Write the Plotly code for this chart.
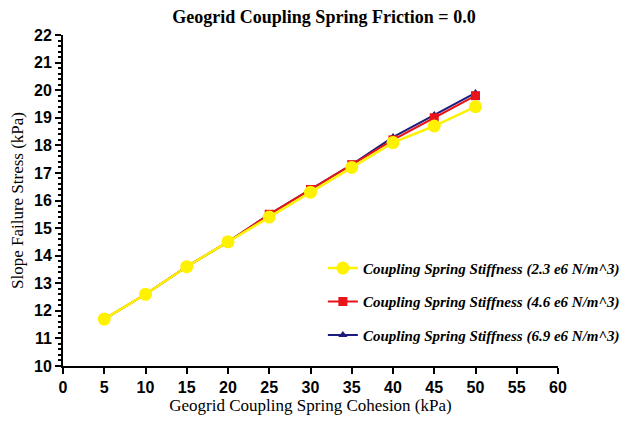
import plotly.graph_objects as go

# ---- data ----
cohesion = [5, 10, 15, 20, 25, 30, 35, 40, 45, 50]
stress_23 = [11.7, 12.6, 13.6, 14.5, 15.4, 16.3, 17.2, 18.1, 18.7, 19.4]
stress_46 = [11.7, 12.6, 13.6, 14.5, 15.5, 16.4, 17.3, 18.2, 19.0, 19.8]
stress_69 = [11.7, 12.6, 13.6, 14.5, 15.5, 16.4, 17.3, 18.3, 19.1, 19.9]

names = [
    "Coupling Spring Stiffness (2.3 e6 N/m^3)",
    "Coupling Spring Stiffness (4.6 e6 N/m^3)",
    "Coupling Spring Stiffness (6.9 e6 N/m^3)",
]

fig = go.Figure()

# draw blue first, yellow on top like the original
fig.add_trace(go.Scatter(
    x=cohesion, y=stress_69, mode="lines+markers", name="<b><i>" + names[2] + "</i></b>",
    line=dict(color="#1c1c7c", width=2),
    marker=dict(symbol="triangle-up", size=8, color="#1c1c7c"),
    legendgroup="c", legendrank=3,
))
fig.add_trace(go.Scatter(
    x=cohesion, y=stress_46, mode="lines+markers", name="<b><i>" + names[1] + "</i></b>",
    line=dict(color="#e8141a", width=2),
    marker=dict(symbol="square", size=9, color="#e8141a"),
    legendgroup="b", legendrank=2,
))
fig.add_trace(go.Scatter(
    x=cohesion, y=stress_23, mode="lines+markers", name="<b><i>" + names[0] + "</i></b>",
    line=dict(color="#fff200", width=2.5),
    marker=dict(symbol="circle", size=13, color="#fff200"),
    legendgroup="a", legendrank=1,
))

# page body has an 8px margin, so the figure is sized to fit what is left
fig.update_layout(
    width=632, height=413,
    paper_bgcolor="white", plot_bgcolor="white",
    margin=dict(l=55, r=82, t=27, b=55, autoexpand=False),
    title=dict(text="<b>Geogrid Coupling Spring Friction = 0.0</b>",
               x=0.5, xanchor="center", y=0.978, yanchor="middle",
               font=dict(family="Liberation Serif", size=18, color="black")),
    legend=dict(x=0.525, y=0.345, xanchor="left", yanchor="top",
                bgcolor="rgba(0,0,0,0)", traceorder="grouped", tracegroupgap=11,
                font=dict(family="Liberation Serif", size=15, color="black")),
    font=dict(family="Liberation Sans", color="black"),
)

fig.update_xaxes(
    range=[0, 60], tick0=0, dtick=5, automargin=False,
    showgrid=False, zeroline=False,
    showline=True, linecolor="black", linewidth=2,
    ticks="outside", ticklen=6, tickwidth=2, tickcolor="black",
    tickfont=dict(family="Liberation Sans", size=16, color="black", weight="bold"),
    title=dict(text="Geogrid Coupling Spring Cohesion (kPa)", standoff=2,
               font=dict(family="Liberation Serif", size=17, color="black")),
)
fig.update_yaxes(
    range=[10, 22], tick0=10, dtick=1, automargin=False,
    showgrid=False, zeroline=False,
    showline=True, linecolor="black", linewidth=2,
    ticks="outside", ticklen=6, tickwidth=2, tickcolor="black",
    minor=dict(ticks="outside", ticklen=3, tickwidth=1.5, tickcolor="black", dtick=0.2),
    tickfont=dict(family="Liberation Sans", size=16, color="black", weight="bold"),
    title=dict(text="Slope Failure Stress (kPa)",
               font=dict(family="Liberation Serif", size=17, color="black")),
)

fig.write_html("out.html")
